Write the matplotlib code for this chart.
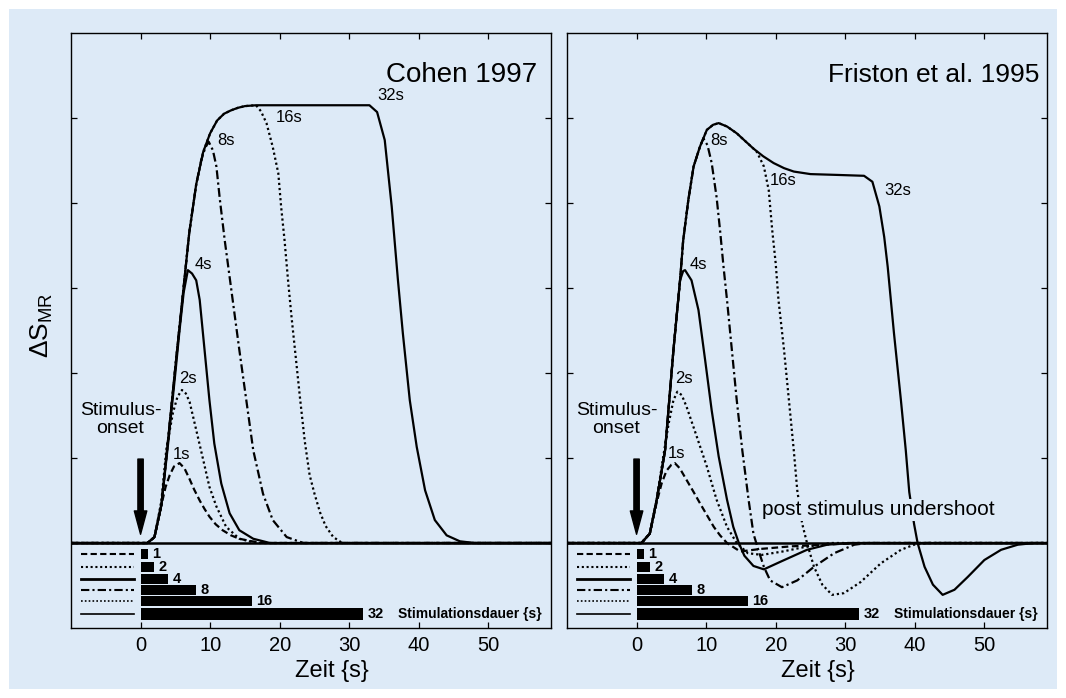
import matplotlib.pyplot as plt
from matplotlib.patches import Rectangle

plt.rcParams['font.family'] = ['Liberation Sans', 'DejaVu Sans']

BG = '#ddeaf7'

# Stimulationsdauer (s)
durations = [1, 2, 4, 8, 16, 32]

# Cohen 1997 - Zeit (s) und Signal
cohen_1s_t = [-10, 1, 2, 3, 3.6, 4.2, 4.8, 5.6, 6.3, 7, 7.7, 8.5, 9.2, 9.9, 10.8, 11.8, 13, 14.2, 16, 18, 59]
cohen_1s_v = [0, 0, 0.07, 0.45, 0.66, 0.8, 0.9, 0.94, 0.88, 0.76, 0.63, 0.5, 0.4, 0.31, 0.22, 0.15, 0.09, 0.05, 0.02, 0, 0]
cohen_2s_t = [-10, 1, 2, 3, 3.7, 4.65, 5.3, 5.95, 6.5, 7.05, 8.0, 9.0, 9.9, 10.9, 12.3, 14.2, 16.6, 59]
cohen_2s_v = [0, 0, 0.07, 0.5, 1.1, 1.53, 1.72, 1.8, 1.76, 1.66, 1.33, 0.98, 0.66, 0.43, 0.19, 0.05, 0, 0]
cohen_4s_t = [-10, 1, 2, 3, 4, 5, 5.6, 6.2, 6.8, 7.4, 8.0, 8.5, 9.2, 9.9, 10.6, 11.6, 12.8, 14.2, 16.2, 18.6, 59]
cohen_4s_v = [0, 0, 0.07, 0.45, 1.2, 2.0, 2.5, 2.95, 3.21, 3.17, 3.09, 2.86, 2.27, 1.68, 1.17, 0.7, 0.35, 0.15, 0.05, 0, 0]
cohen_8s_t = [-10, 1, 2, 3, 4, 5, 6, 7, 8, 8.7, 9.3, 9.8, 10.4, 10.9, 11.4, 12.1, 12.8, 13.5, 14.2, 15.2, 16.2, 17.6, 19.0, 21.0, 23.4, 59]
cohen_8s_v = [0, 0, 0.07, 0.45, 1.25, 2.07, 2.86, 3.65, 4.22, 4.5, 4.65, 4.72, 4.62, 4.43, 4.04, 3.56, 3.13, 2.7, 2.27, 1.68, 1.09, 0.58, 0.27, 0.07, 0, 0]
cohen_16s_t = [-10, 1, 2, 3, 4, 5, 6, 7, 8, 9, 10, 11, 12, 13, 14, 15, 16.6, 17.3, 18.1, 19.0, 19.8, 20.2, 20.7, 21.2, 21.7, 22.2, 22.9, 23.6, 24.3, 25.0, 25.8, 26.6, 27.7, 29, 59]
cohen_16s_v = [0, 0, 0.07, 0.45, 1.25, 2.07, 2.86, 3.65, 4.22, 4.6, 4.82, 4.97, 5.05, 5.09, 5.12, 5.14, 5.15, 5.08, 4.94, 4.66, 4.35, 3.96, 3.56, 3.09, 2.66, 2.27, 1.72, 1.2, 0.8, 0.58, 0.36, 0.2, 0.07, 0, 0]
cohen_32s_t = [-10, 1, 2, 3, 4, 5, 6, 7, 8, 9, 10, 11, 12, 13, 14, 15, 16.6, 32.9, 34, 35.1, 36.1, 37, 37.7, 38.7, 39.7, 40.9, 42.3, 44, 45.9, 48, 59]
cohen_32s_v = [0, 0, 0.07, 0.45, 1.25, 2.07, 2.86, 3.65, 4.22, 4.6, 4.82, 4.97, 5.05, 5.09, 5.12, 5.14, 5.15, 5.15, 5.07, 4.74, 3.96, 3.09, 2.47, 1.68, 1.13, 0.62, 0.27, 0.09, 0.02, 0, 0]

# Friston et al. 1995
friston_1s_t = [-10, 0.7, 1.9, 2.9, 3.6, 4.3, 5.0, 5.5, 6.2, 7.2, 8.2, 9.1, 10.1, 11.1, 12.0, 13.0, 14.9, 17.8, 22.1, 26.9, 32, 59]
friston_1s_v = [0, 0, 0.11, 0.48, 0.7, 0.85, 0.92, 0.94, 0.88, 0.74, 0.6, 0.47, 0.33, 0.19, 0.09, 0, -0.1, -0.07, -0.04, -0.02, 0, 0]
friston_2s_t = [-10, 0.7, 1.9, 2.9, 3.8, 4.6, 5.3, 5.86, 6.5, 7.2, 8.66, 10.1, 11.5, 13.0, 14.4, 16, 18, 21, 24, 28, 59]
friston_2s_v = [0, 0, 0.11, 0.51, 1.0, 1.4, 1.68, 1.78, 1.74, 1.6, 1.25, 0.9, 0.51, 0.19, 0, -0.12, -0.14, -0.1, -0.05, 0, 0]
friston_4s_t = [-10, 0.7, 1.9, 2.9, 4.1, 5.3, 6.25, 6.7, 6.97, 7.9, 8.9, 9.86, 10.8, 11.8, 13.0, 13.9, 14.7, 15.5, 16.8, 18.3, 20.7, 24.5, 27.4, 30.6, 59]
friston_4s_v = [0, 0, 0.11, 0.51, 1.09, 2.27, 3.09, 3.2, 3.21, 3.09, 2.74, 2.15, 1.56, 1.02, 0.51, 0.19, 0, -0.15, -0.27, -0.31, -0.22, -0.08, -0.02, 0, 0]
friston_8s_t = [-10, 0.7, 1.9, 2.9, 4.1, 5.3, 6.25, 6.7, 7.45, 8.2, 9.1, 9.6, 10.2, 10.8, 11.5, 12.0, 12.5, 13.0, 13.7, 14.4, 15.2, 16.1, 16.8, 17.5, 18.3, 19.2, 20.9, 23.1, 25.5, 28.4, 31.3, 33.2, 59]
friston_8s_v = [0, 0, 0.11, 0.51, 1.09, 2.27, 3.09, 3.56, 4.04, 4.43, 4.66, 4.76, 4.68, 4.47, 4.07, 3.68, 3.25, 2.86, 2.27, 1.68, 1.09, 0.51, 0.11, -0.08, -0.28, -0.44, -0.52, -0.44, -0.28, -0.12, -0.02, 0, 0]
friston_16s_t = [-10, 0.7, 1.9, 2.9, 4.1, 5.3, 6.25, 6.7, 7.45, 8.2, 9.1, 10.1, 11.0, 11.8, 13.0, 14.4, 15.6, 16.8, 17.3, 18.3, 19.0, 19.5, 20.0, 20.4, 21.2, 21.9, 22.6, 23.1, 23.8, 24.5, 25.5, 26.7, 28.1, 29.8, 32.2, 35.1, 38.0, 39.9, 41.8, 59]
friston_16s_v = [0, 0, 0.11, 0.51, 1.09, 2.27, 3.09, 3.56, 4.04, 4.43, 4.66, 4.86, 4.92, 4.94, 4.9, 4.82, 4.73, 4.64, 4.6, 4.43, 4.15, 3.68, 3.29, 2.86, 2.27, 1.68, 1.09, 0.62, 0.23, 0, -0.28, -0.49, -0.61, -0.59, -0.46, -0.24, -0.08, -0.02, 0, 0]
friston_32s_t = [-10, 0.7, 1.9, 2.9, 4.1, 5.3, 6.25, 6.7, 7.45, 8.2, 9.1, 10.1, 11.0, 11.8, 13.0, 14.4, 15.6, 16.8, 18.2, 19.7, 21.2, 22.6, 25.0, 29, 32.7, 33.9, 34.9, 35.6, 36.1, 37.0, 38.0, 38.7, 39.2, 39.9, 40.4, 41.4, 42.6, 44.0, 45.7, 47.6, 50.0, 52.4, 54.8, 57.2, 59]
friston_32s_v = [0, 0, 0.11, 0.51, 1.09, 2.27, 3.09, 3.56, 4.04, 4.43, 4.66, 4.86, 4.92, 4.94, 4.9, 4.82, 4.73, 4.64, 4.55, 4.47, 4.41, 4.37, 4.34, 4.33, 4.32, 4.25, 3.96, 3.6, 3.25, 2.47, 1.68, 1.09, 0.6, 0.22, 0, -0.28, -0.49, -0.61, -0.55, -0.4, -0.2, -0.08, -0.02, 0, 0]

curve_labels = ['1s', '2s', '4s', '8s', '16s', '32s']
x_ticks = [0, 10, 20, 30, 40, 50]

# Linienstile fuer 1, 2, 4, 8, 16, 32 s
styles = [(0, (3, 1.6)), (0, (1, 1.3)), '-', (0, (4, 1.5, 1, 1.5)), (0, (1, 1.3)), '-']
legend_lw = [1.5, 1.5, 2.0, 1.5, 1.2, 1.2]
bar_y = [-0.13, -0.28, -0.42, -0.55, -0.68, -0.84]
bar_h = [0.115, 0.115, 0.115, 0.115, 0.115, 0.14]

panels = [
    dict(title='Cohen 1997', title_x=0.971, title_size=20,
         t=[cohen_1s_t, cohen_2s_t, cohen_4s_t, cohen_8s_t, cohen_16s_t, cohen_32s_t],
         v=[cohen_1s_v, cohen_2s_v, cohen_4s_v, cohen_8s_v, cohen_16s_v, cohen_32s_v],
         label_pos=[(4.65, 1.04), (5.6, 1.93), (7.8, 3.28), (11.0, 4.74), (19.5, 5.0), (34.1, 5.26)]),
    dict(title='Friston et al. 1995', title_x=0.985, title_size=19,
         t=[friston_1s_t, friston_2s_t, friston_4s_t, friston_8s_t, friston_16s_t, friston_32s_t],
         v=[friston_1s_v, friston_2s_v, friston_4s_v, friston_8s_v, friston_16s_v, friston_32s_v],
         label_pos=[(4.55, 1.05), (5.5, 1.93), (7.6, 3.28), (10.6, 4.74), (19.1, 4.27), (35.6, 4.15)]),
]

W, H = 1066, 698
fig = plt.figure(figsize=(W / 100, H / 100), dpi=100)
fig.add_artist(Rectangle((9 / W, 9 / H), 1048 / W, 680 / H, transform=fig.transFigure,
                         facecolor=BG, edgecolor='none', zorder=-10))

lefts = [71, 567]
for i, p in enumerate(panels):
    ax = fig.add_axes([lefts[i] / W, 70 / H, 480 / W, 595 / H])
    ax.set_facecolor(BG)
    ax.set_xlim(-10, 59)
    ax.set_ylim(-1, 6)

    ax.axhline(0, color='black', lw=1.8, zorder=2)
    for k in range(6):
        ax.plot(p['t'][k], p['v'][k], color='black', ls=styles[k], lw=1.6, zorder=3)
        lx, ly = p['label_pos'][k]
        ax.text(lx, ly, curve_labels[k], fontsize=12, ha='left', va='center')

    # Balken und Linienlegende unten
    ax.barh(bar_y, durations, height=bar_h, left=0, color='black', zorder=3)
    for k in range(6):
        ax.plot([-8.6, -1.0], [bar_y[k], bar_y[k]], color='black', ls=styles[k], lw=legend_lw[k])
        ax.text(durations[k] + 0.6, bar_y[k], str(durations[k]), fontsize=10.5,
                fontweight='bold', ha='left', va='center')
    ax.text(37.0, bar_y[5], 'Stimulationsdauer {s}', fontsize=10, fontweight='bold',
            ha='left', va='center')

    ax.text(p['title_x'], 0.929, p['title'], transform=ax.transAxes, fontsize=p['title_size'],
            ha='right', va='center')

    ax.text(-2.9, 1.45, 'Stimulus-\nonset', fontsize=14, ha='center', va='center', linespacing=1.1)
    ax.annotate('', xy=(0, 0.07), xytext=(0, 1.02),
                arrowprops=dict(arrowstyle='simple,head_length=1.4,head_width=0.75,tail_width=0.32',
                                fc='black', ec='black', mutation_scale=12))

    ax.set_xticks(x_ticks)
    ax.set_yticks([0, 1, 2, 3, 4, 5])
    ax.set_yticklabels([])
    ax.tick_params(direction='in', top=True, right=True, length=4.5, width=0.9,
                   labelsize=14.5, pad=6)
    for s in ax.spines.values():
        s.set_linewidth(1.0)

    xl = [0.543, 0.523][i]
    ax.text(xl, -0.072, 'Zeit {s}', transform=ax.transAxes, fontsize=17, ha='center', va='center')

    if i == 1:
        ax.text(34.8, 0.39, 'post stimulus undershoot', fontsize=15, ha='center', va='center',
                zorder=5, bbox=dict(facecolor=BG, edgecolor='none', pad=1))

fig.text(42 / W, 1 - 325 / H, 'ΔS$_\\mathregular{MR}$', fontsize=19, rotation=90,
         ha='center', va='center')

fig.savefig('out.png', dpi=100, facecolor='white')
